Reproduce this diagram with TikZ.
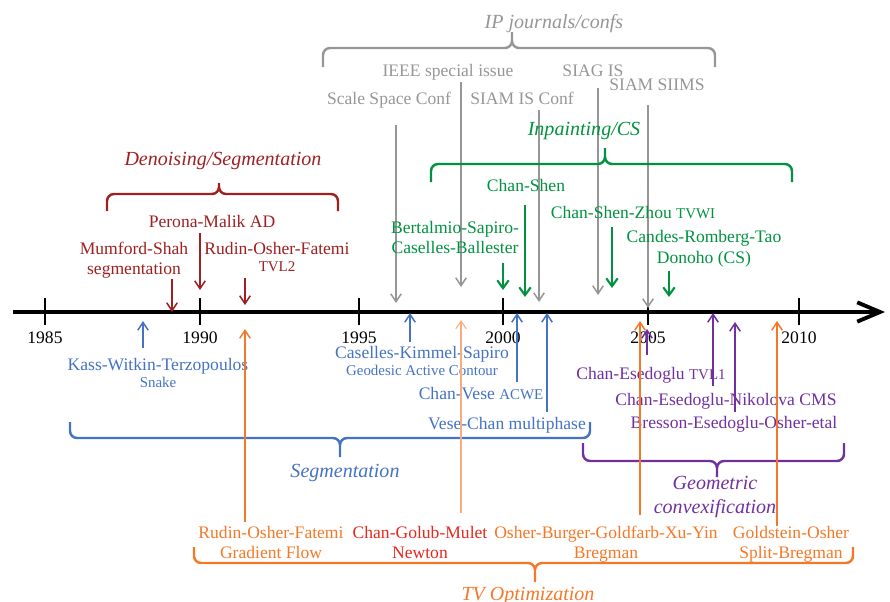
\documentclass[tikz,border=0pt]{standalone}
\usepackage{fontspec}
\setmainfont{Liberation Serif}
\usetikzlibrary{arrows.meta}
\definecolor{dred}{RGB}{158,32,32}
\definecolor{igray}{RGB}{150,150,150}
\definecolor{igreen}{RGB}{0,146,63}
\definecolor{iblue}{RGB}{68,114,196}
\definecolor{ipurple}{RGB}{112,48,160}
\definecolor{iorange}{RGB}{245,120,40}
\definecolor{ired}{RGB}{232,40,30}
\definecolor{ipeach}{RGB}{248,172,130}
\newcommand{\subtxt}[1]{{\fontsize{8.5}{10}\selectfont #1}}

\begin{document}
\begin{tikzpicture}[x=0.02cm,y=-0.02cm,
  lbl/.style={inner sep=0pt,align=center,font=\fontsize{10}{11.4}\selectfont},
  hd/.style={inner sep=0pt,align=center,font=\fontsize{11.4}{13.7}\selectfont\itshape},
  brc/.style={line width=1.4pt,rounded corners=4pt},
  arr/.style={-{Straight Barb[length=4.5pt,width=6pt]},line width=0.85pt},
  garr/.style={-{Straight Barb[length=4.5pt,width=6.5pt]},line width=1.2pt},
  tck/.style={line width=1.2pt}]
\useasboundingbox (0,0) rectangle (890,602);

% time axis
\draw[line width=2.2pt,-{Straight Barb[length=13pt,width=11pt]}] (13,312) -- (885,312);
\foreach \x/\yr in {45/1985,200/1990,359/1995,503/2000,648/2005,799/2010}{
  \draw[tck] (\x,298) -- (\x,325);
  \node[lbl,anchor=base] (y\yr) at (\x,343) {\yr};
}

% Denoising/Segmentation
\draw[brc,dred] (107,211) |- (219,194) -- (219,183) (338,211) |- (219,194) -- (219,183);
\node[hd,dred,anchor=base] (den) at (223,165) {Denoising/Segmentation};
\node[lbl,dred,anchor=north] (ms) at (134,242) {Mumford-Shah\\segmentation};
\node[lbl,dred,anchor=base] (pm) at (212,227) {Perona-Malik AD};
\node[lbl,dred,anchor=north] (rof) at (277,242) {Rudin-Osher-Fatemi\\[-1.5pt]\subtxt{TVL2}};
\coordinate (ms-t) at (172,312);
\coordinate (pm-t) at (200,290);
\coordinate (rof-t) at (245,305);
\draw[arr,dred] (ms.south -| ms-t) -- (ms-t);
\draw[arr,dred,shorten <=3.4pt] (pm.south -| pm-t) -- (pm-t);
\draw[arr,dred,shorten <=3.4pt] (rof.south -| rof-t) -- (rof-t);

% IP journals/confs
\draw[brc,igray] (323,67) |- (512,48) -- (512,32) (715,67) |- (512,48) -- (512,32);
\node[hd,igray,anchor=base] (ip) at (554,28) {IP journals/confs};
\node[lbl,igray,anchor=base] (ieee) at (448,76) {IEEE special issue};
\node[lbl,igray,anchor=base] (ssc) at (389,104) {Scale Space Conf};
\node[lbl,igray,anchor=base] (siamc) at (522,104) {SIAM IS Conf};
\node[lbl,igray,anchor=base] (siag) at (593,76) {SIAG IS};
\node[lbl,igray,anchor=base] (siims) at (657,90) {SIAM SIIMS};
\coordinate (ssc-t) at (396,303);
\coordinate (ieee-t) at (461,287);
\coordinate (siamc-t) at (539,302);
\coordinate (siag-t) at (598,295);
\coordinate (siims-t) at (648,308);
\draw[arr,igray,shorten <=9.7pt] (ssc.south -| ssc-t) -- (ssc-t);
\draw[arr,igray,shorten <=1pt] (ieee.south -| ieee-t) -- (ieee-t);
\draw[arr,igray,shorten <=3.4pt] (siamc.south -| siamc-t) -- (siamc-t);
\draw[arr,igray,shorten <=6.8pt] (siag.south -| siag-t) -- (siag-t);
\draw[arr,igray,shorten <=8.5pt] (siims.south -| siims-t) -- (siims-t);

% Inpainting/CS
\draw[brc,igreen] (431,182) |- (605,164) -- (605,148) (792,182) |- (605,164) -- (605,148);
\node[hd,igreen,anchor=base] (inp) at (584,135) {Inpainting/CS};
\node[lbl,igreen,anchor=north] (bscb) at (455,221) {Bertalmio-Sapiro-\\Caselles-Ballester};
\node[lbl,igreen,anchor=base] (cs) at (526,191) {Chan-Shen};
\node[lbl,igreen,anchor=base] (csz) at (633,218) {Chan-Shen-Zhou \subtxt{TVWI}};
\node[lbl,igreen,anchor=north] (crt) at (704,230) {Candes-Romberg-Tao\\[0.6pt]Donoho (CS)};
\coordinate (bscb-t) at (503,290);
\coordinate (cs-t) at (525,297);
\coordinate (csz-t) at (612,288);
\coordinate (crt-t) at (669,297);
\draw[garr,igreen,shorten <=5pt] (bscb.south -| bscb-t) -- (bscb-t);
\draw[garr,igreen,shorten <=7.4pt] (cs.south -| cs-t) -- (cs-t);
\draw[garr,igreen,shorten <=5pt] (csz.south -| csz-t) -- (csz-t);
\draw[garr,igreen,shorten <=2pt] (crt.south -| crt-t) -- (crt-t);

% Segmentation
\draw[brc,iblue] (70,422) |- (340,438) -- (340,457) (590,422) |- (340,438) -- (340,457);
\node[hd,iblue,anchor=base] (seg) at (345,477) {Segmentation};
\node[lbl,iblue,anchor=north] (kwt) at (158,358) {Kass-Witkin-Terzopoulos\\[-1.5pt]\subtxt{Snake}};
\node[lbl,iblue,anchor=north] (cks) at (422,346) {Caselles-Kimmel-Sapiro\\[-1.5pt]\subtxt{Geodesic Active Contour}};
\node[lbl,iblue,anchor=base] (cv) at (481,399) {Chan-Vese \subtxt{ACWE}};
\node[lbl,iblue,anchor=base] (vc) at (507,429) {Vese-Chan multiphase};
\coordinate (kwt-t) at (143,321);
\coordinate (cks-t) at (410,313);
\coordinate (cv-t) at (517,313);
\coordinate (vc-t) at (547,313);
\draw[arr,iblue,shorten <=5.7pt] (kwt.north -| kwt-t) -- (kwt-t);
\draw[arr,iblue,shorten <=2.3pt] (cks.north -| cks-t) -- (cks-t);
\draw[arr,iblue,shorten <=2.8pt] (cv.north -| cv-t) -- (cv-t);
\draw[arr,iblue,shorten <=2.3pt] (vc.north -| vc-t) -- (vc-t);

% Geometric convexification
\draw[brc,ipurple] (583,443) |- (717,461) -- (717,477) (844,443) |- (717,461) -- (717,477);
\node[hd,ipurple,anchor=north] (geo) at (715,476) {Geometric\\convexification};
\node[lbl,ipurple,anchor=base] (ce) at (651,379) {Chan-Esedoglu \subtxt{TVL1}};
\node[lbl,ipurple,anchor=base] (cen) at (726,405) {Chan-Esedoglu-Nikolova CMS};
\node[lbl,ipurple,anchor=base] (beo) at (734,428) {Bresson-Esedoglu-Osher-etal};
\coordinate (ce-t) at (647,329);
\coordinate (cen-t) at (713,313);
\coordinate (beo-t) at (735,322);
\draw[arr,ipurple,shorten <=6.8pt] (ce.north -| ce-t) -- (ce-t);
\draw[arr,ipurple,shorten <=3.4pt] (cen.north -| cen-t) -- (cen-t);
\draw[arr,ipurple,shorten <=1.7pt] (beo.north -| beo-t) -- (beo-t);

% TV Optimization
\draw[brc,iorange] (194,547) |- (535,563) -- (535,582) (853,547) |- (535,563) -- (535,582);
\node[hd,iorange,anchor=base] (tvo) at (528,600) {TV Optimization};
\node[lbl,iorange,anchor=north] (rofgf) at (271,526) {Rudin-Osher-Fatemi\\Gradient Flow};
\node[lbl,ired,anchor=north] (cgm) at (420,526) {Chan-Golub-Mulet\\Newton};
\node[lbl,iorange,anchor=north] (obg) at (606,526) {Osher-Burger-Goldfarb-Xu-Yin\\Bregman};
\node[lbl,iorange,anchor=north] (go) at (791,526) {Goldstein-Osher\\Split-Bregman};
\coordinate (rofgf-t) at (245,329);
\coordinate (cgm-t) at (461,320);
\coordinate (obg-t) at (640,321);
\coordinate (go-t) at (777,321);
\draw[arr,iorange,shorten <=2.3pt] (rofgf.north -| rofgf-t) -- (rofgf-t);
\draw[arr,ipeach,line width=0.6pt,shorten <=7.4pt] (cgm.north -| cgm-t) -- (cgm-t);
\draw[arr,iorange,shorten <=6.3pt] (obg.north -| obg-t) -- (obg-t);
\draw[arr,iorange] (go.north -| go-t) -- (go-t);
\end{tikzpicture}
\end{document}
